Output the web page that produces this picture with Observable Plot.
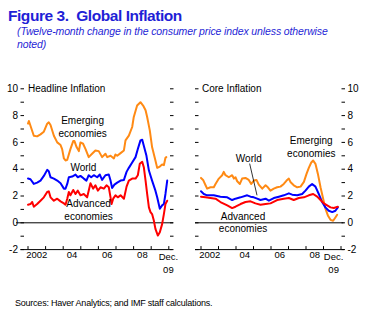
<!DOCTYPE html>
<html><head><meta charset="utf-8">
<script src="https://cdn.jsdelivr.net/npm/d3@7"></script>
<script src="https://cdn.jsdelivr.net/npm/@observablehq/plot@0.6"></script>
<style>
body{margin:0;background:#fff;}
#page{position:relative;width:368px;height:318px;overflow:hidden;font-family:"Liberation Sans",Arial,sans-serif;background:#fff}
#title{position:absolute;left:8px;top:7.6px;font-weight:bold;font-size:15.5px;line-height:15.5px;color:#1f1fd6;letter-spacing:-0.45px;white-space:pre}
#sub{position:absolute;left:17px;top:24.9px;font-style:italic;font-size:10.5px;line-height:13px;color:#1f1fd6;letter-spacing:-0.12px;white-space:nowrap}
#src{position:absolute;left:15px;top:297.9px;font-size:9px;line-height:10px;color:#000;letter-spacing:-0.23px;white-space:nowrap}
.panel{position:absolute;top:80px}
</style></head>
<body><div id="page">
<div id="title">Figure 3.  Global Inflation</div>
<div id="sub">(Twelve-month change in the consumer price index unless otherwise<br>noted)</div>
<div id="left" class="panel" style="left:0px"></div>
<div id="right" class="panel" style="left:184px"></div>
<div id="src">Sources: Haver Analytics; and IMF staff calculations.</div>
</div>
<script>
// ---- tick definitions ----
const yearTicks = [2002, 2003, 2004, 2005, 2006, 2007, 2008, 2009, 2010];
const yTicks = [-2, -1, 0, 1, 2, 3, 4, 5, 6, 7, 8, 9, 10];
const xLabelText = ["2002", "04", "06", "08"];
const xLabelPos = [2002.5, 2004.5, 2006.5, 2008.5];
const decLabel = "Dec.\n09";
const decPos = 2009.75;

// ---- Headline inflation ----
const emHeadT = [2002.0,2002.05,2002.33,2002.52,2002.71,2002.90,2003.09,2003.18,2003.28,2003.47,2003.66,2003.85,2003.94,2004.04,2004.13,2004.23,2004.41,2004.57,2004.64,2004.76,2004.89,2004.98,2005.13,2005.27,2005.45,2005.64,2005.83,2006.02,2006.21,2006.40,2006.50,2006.69,2006.88,2006.97,2007.07,2007.26,2007.45,2007.54,2007.73,2007.92,2008.01,2008.20,2008.39,2008.54,2008.68,2008.77,2008.92,2009.05,2009.24,2009.34,2009.49,2009.62,2009.72,2009.81,2009.86];
const emHeadV = [7.4,7.6,6.5,6.45,6.6,6.8,7.4,7.5,7.3,6.5,6.0,5.8,5.5,4.8,4.65,4.7,5.5,6.1,6.1,5.65,5.35,6.0,5.9,5.5,4.9,5.15,5.4,5.35,4.9,5.15,4.9,5.0,4.8,5.1,5.0,5.2,5.4,6.15,6.5,7.15,7.9,8.75,9.0,8.75,8.4,7.9,6.9,5.65,4.65,4.1,4.2,4.35,4.3,4.85,4.9];

const wHeadT = [2002.0,2002.14,2002.33,2002.52,2002.71,2002.90,2003.09,2003.18,2003.28,2003.47,2003.66,2003.85,2004.04,2004.13,2004.23,2004.32,2004.51,2004.70,2004.83,2004.98,2005.17,2005.32,2005.45,2005.59,2005.74,2005.93,2006.08,2006.21,2006.40,2006.59,2006.69,2006.78,2006.91,2007.07,2007.26,2007.45,2007.60,2007.73,2007.92,2008.11,2008.24,2008.39,2008.49,2008.58,2008.73,2008.87,2009.05,2009.24,2009.34,2009.49,2009.62,2009.72,2009.81,2009.91];
const wHeadV = [3.3,3.25,2.9,3.0,3.15,3.5,3.95,3.85,3.4,3.3,3.15,2.95,2.55,2.55,2.9,3.4,3.45,3.6,3.4,3.5,3.3,3.15,3.55,3.4,3.55,3.4,3.6,3.2,3.55,3.6,3.15,2.6,2.85,3.0,3.15,3.2,3.8,4.1,4.5,4.9,5.5,6.15,6.2,5.75,5.0,3.9,3.15,2.4,1.9,1.05,1.3,1.4,2.15,3.15];

const advHeadT = [2002.0,2002.14,2002.24,2002.33,2002.52,2002.71,2002.90,2003.09,2003.18,2003.28,2003.47,2003.66,2003.85,2004.04,2004.13,2004.23,2004.32,2004.41,2004.57,2004.70,2004.83,2004.98,2005.17,2005.36,2005.55,2005.70,2005.83,2005.97,2006.12,2006.31,2006.46,2006.59,2006.69,2006.75,2006.84,2006.97,2007.10,2007.26,2007.45,2007.60,2007.73,2007.92,2008.11,2008.24,2008.35,2008.49,2008.58,2008.68,2008.77,2008.87,2008.96,2009.05,2009.15,2009.24,2009.38,2009.49,2009.62,2009.72,2009.81,2009.91];
const advHeadV = [1.35,1.4,1.55,1.2,1.4,1.65,1.9,2.3,2.35,1.9,1.65,1.8,1.6,1.45,1.35,1.8,2.3,2.05,2.45,2.15,2.4,2.05,2.15,1.9,2.95,2.55,2.8,2.4,2.65,2.55,2.8,2.65,1.9,1.4,1.8,2.05,1.9,2.05,1.8,2.7,3.15,3.3,3.3,3.55,4.4,4.55,4.15,3.15,2.15,1.15,0.8,0.65,0.17,-0.45,-0.95,-0.7,-0.1,0.65,1.4,1.65];

// ---- Core inflation ----
const emCoreT = [2002.0,2002.12,2002.26,2002.35,2002.54,2002.73,2002.83,2003.02,2003.21,2003.30,2003.40,2003.59,2003.78,2003.88,2003.97,2004.07,2004.22,2004.35,2004.54,2004.73,2004.87,2005.02,2005.17,2005.30,2005.50,2005.69,2005.82,2005.97,2006.16,2006.35,2006.54,2006.73,2006.89,2007.02,2007.11,2007.30,2007.50,2007.69,2007.88,2008.03,2008.16,2008.30,2008.41,2008.54,2008.68,2008.83,2008.98,2009.11,2009.25,2009.40,2009.55,2009.68,2009.78];
const emCoreV = [3.35,3.2,2.8,2.55,2.65,2.65,2.9,3.3,3.55,3.8,3.55,3.4,3.55,3.3,3.4,3.1,2.9,3.3,3.35,3.2,2.9,3.15,3.2,2.85,2.55,2.8,2.65,2.4,2.55,2.65,2.7,2.9,3.15,3.3,3.05,2.8,2.65,2.7,3.05,3.65,4.1,4.5,4.65,4.4,3.65,2.65,1.8,1.05,0.55,0.22,0.15,0.4,0.6];

const wCoreT = [2002.0,2002.16,2002.35,2002.73,2003.11,2003.50,2003.78,2003.97,2004.26,2004.64,2004.83,2005.02,2005.21,2005.40,2005.69,2005.88,2006.16,2006.45,2006.73,2007.02,2007.21,2007.50,2007.78,2007.97,2008.16,2008.35,2008.54,2008.73,2008.92,2009.11,2009.30,2009.50,2009.68,2009.82];
const wCoreV = [2.35,2.15,2.05,2.05,1.95,1.9,1.7,1.8,1.9,2.05,1.95,1.9,1.8,1.7,1.8,1.65,1.85,1.95,2.05,2.2,2.1,2.05,2.15,2.4,2.7,2.9,2.7,2.15,1.55,1.15,0.9,0.8,0.9,1.15];

const advCoreT = [2002.0,2002.26,2002.54,2002.83,2003.11,2003.50,2003.78,2003.97,2004.26,2004.54,2004.83,2005.11,2005.40,2005.69,2005.97,2006.35,2006.73,2007.02,2007.30,2007.59,2007.88,2008.16,2008.41,2008.64,2008.83,2009.02,2009.21,2009.40,2009.59,2009.82];
const advCoreV = [1.95,1.9,1.85,1.8,1.55,1.3,1.1,1.2,1.4,1.55,1.6,1.45,1.35,1.4,1.45,1.7,1.8,1.85,1.7,1.85,1.9,2.05,2.15,1.95,1.7,1.45,1.3,1.15,1.1,1.2];

// ---- annotations ----
const headLabels = [
  {t: 2005.1, v: 7.2, text: "Emerging\neconomies"},
  {t: 2005.15, v: 4.2, text: "World"},
  {t: 2005.44, v: 1.0, text: "Advanced\neconomies"}
];
const coreLabels = [
  {t: 2008.3, v: 5.7, text: "Emerging\neconomies"},
  {t: 2004.73, v: 4.8, text: "World"},
  {t: 2004.4, v: 0.07, text: "Advanced\neconomies"}
];
const coreLeader = [{t1: 2004.78, v1: 4.42, t2: 2005.2, v2: 2.05}];

const colors = {em: "#ff8a14", w: "#0000ff", adv: "#ff0000"};

const toRows = (T, V) => T.map((t, i) => ({t, v: V[i]}));

function panel({series, labels, leader, title, labelSide, width, mLeft, mRight, insetL, insetR, decDx, titleDx}) {
  const fmt = d => (d % 2 === 0 ? String(d) : "");
  const blank = () => "";
  const marks = [
    Plot.ruleY([0], {stroke: "#000", strokeWidth: 1, insetLeft: labelSide === "left" ? -8 : -3.5, insetRight: labelSide === "left" ? -4 : -3}),
    Plot.ruleY([-2], {stroke: "#000", strokeWidth: 1, insetLeft: -3.5, insetRight: -3.5}),
    Plot.ruleX(yearTicks, {x: d => d, y1: -2, y2: -2, insetTop: -3, stroke: "#000"}),
    Plot.axisY(yTicks, {anchor: "left", tickSize: 3.5, tickPadding: 3, tickFormat: labelSide === "left" ? fmt : blank, label: null, fontSize: 10}),
    Plot.axisY(yTicks, {anchor: "right", tickSize: 3.5, tickPadding: 3, tickFormat: labelSide === "right" ? fmt : blank, label: null, fontSize: 10}),
    Plot.text(xLabelText, {x: (d, i) => xLabelPos[i], y: -2, text: d => d, lineAnchor: "top", dy: 2, fontSize: 9.5}),
    Plot.text([decLabel], {x: () => decPos, y: -2, text: d => d, lineAnchor: "top", dy: 2, dx: decDx, fontSize: 9.5, lineHeight: 1.3}),
    ...series.map(s => Plot.line(toRows(s.T, s.V), {x: "t", y: "v", stroke: s.color, strokeWidth: 2})),
    Plot.text(labels, {x: "t", y: "v", text: "text", fontSize: 10, lineHeight: 1.25, fill: "#000"}),
    Plot.text([title], {x: () => 2002, y: () => 10, text: d => d, textAnchor: "start", dx: titleDx, fontSize: 10})
  ];
  if (leader) marks.push(Plot.link(leader, {x1: "t1", y1: "v1", x2: "t2", y2: "v2", stroke: "#000", strokeWidth: 0.8}));
  return Plot.plot({
    width, height: 200,
    marginTop: 8.3, marginBottom: 30.9, marginLeft: mLeft, marginRight: mRight,
    style: {fontFamily: "'Liberation Sans', Arial, sans-serif", fontSize: "10px", background: "transparent", color: "#000"},
    x: {type: "linear", domain: [2002, 2010], insetLeft: insetL, insetRight: insetR, axis: null, label: null},
    y: {type: "linear", domain: [-2, 10], axis: null, label: null},
    marks
  });
}

document.getElementById("left").append(panel({
  series: [
    {T: emHeadT, V: emHeadV, color: colors.em},
    {T: wHeadT, V: wHeadV, color: colors.w},
    {T: advHeadT, V: advHeadV, color: colors.adv}
  ],
  labels: headLabels, title: "Headline Inflation", labelSide: "left",
  width: 184, mLeft: 24, mRight: 15, insetL: 3.5, insetR: 0.7, decDx: 4, titleDx: 0
}));
document.getElementById("right").append(panel({
  series: [
    {T: emCoreT, V: emCoreV, color: colors.em},
    {T: wCoreT, V: wCoreV, color: colors.w},
    {T: advCoreT, V: advCoreV, color: colors.adv}
  ],
  labels: coreLabels, leader: coreLeader, title: "Core Inflation", labelSide: "right",
  width: 184, mLeft: 14.5, mRight: 27.5, insetL: 2, insetR: 0, decDx: -3, titleDx: 1
}));
</script>
</body></html>
